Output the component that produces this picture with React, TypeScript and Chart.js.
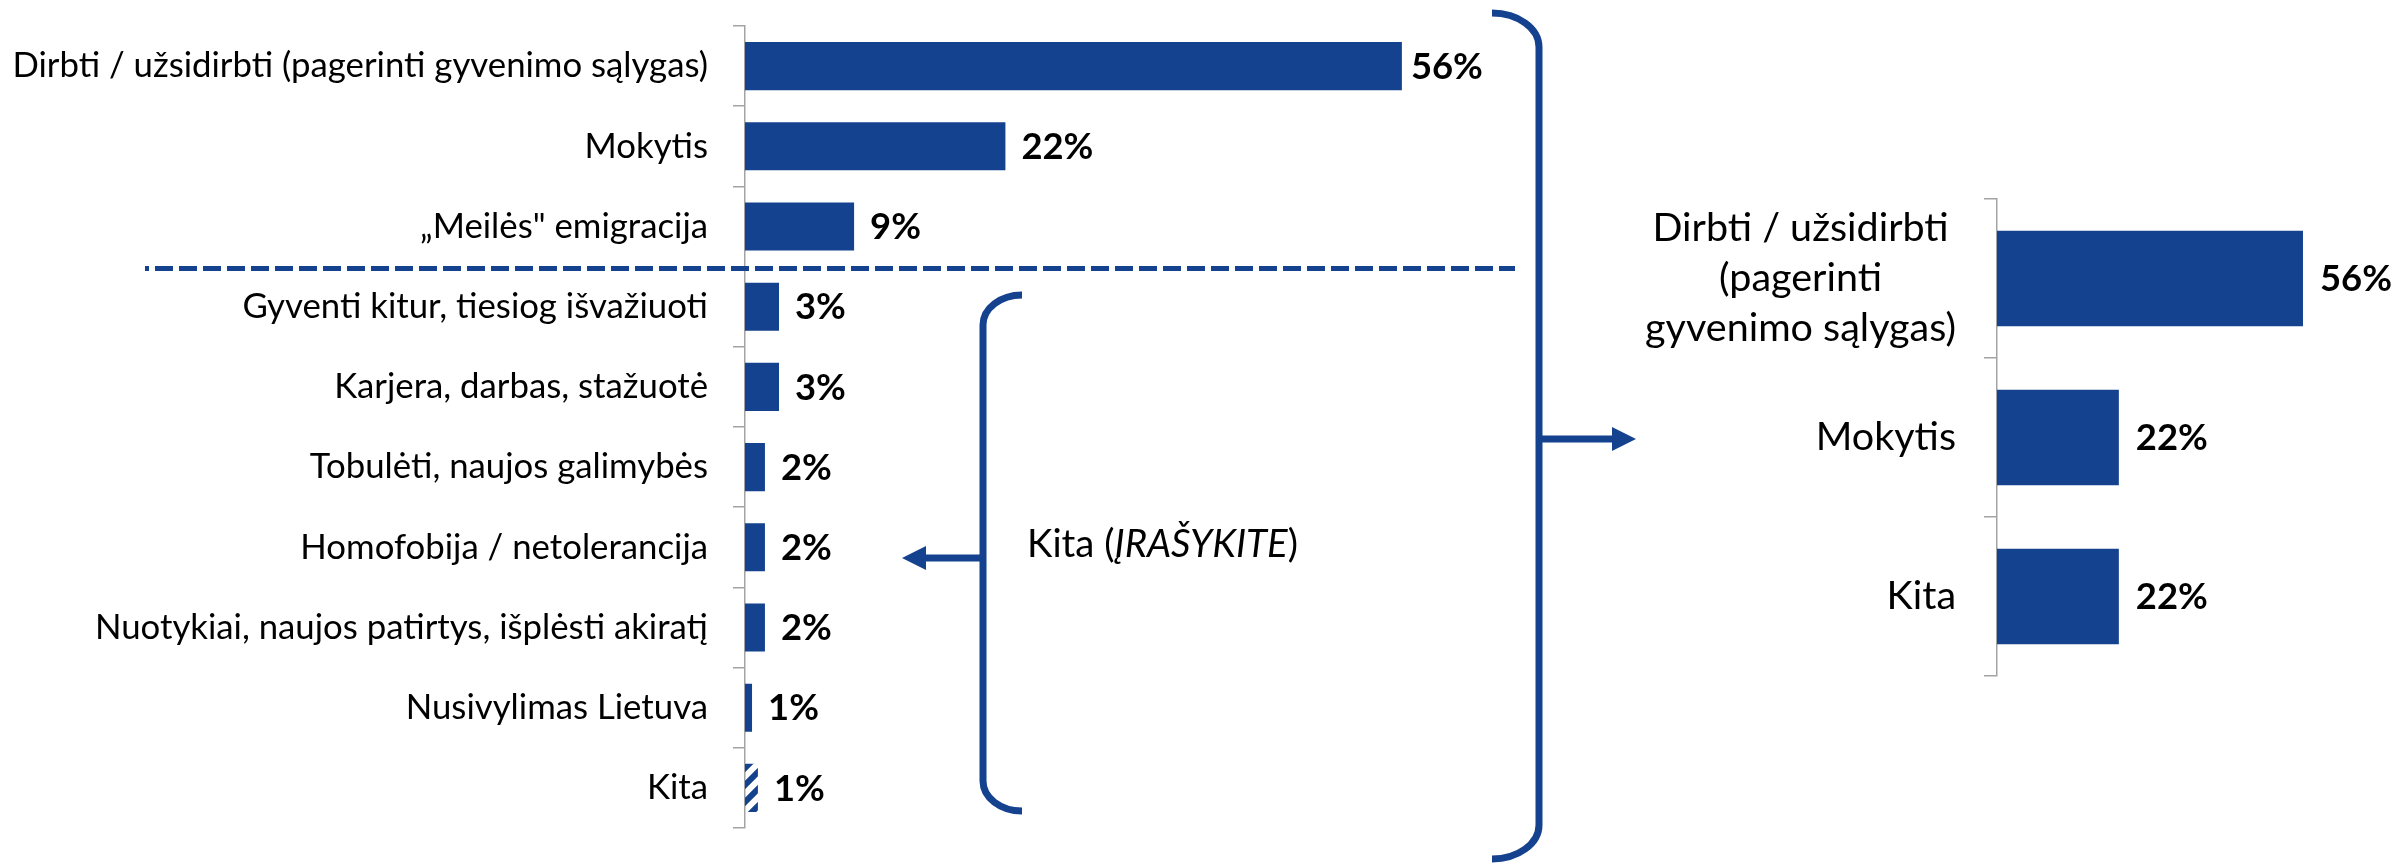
import React, { useEffect, useRef } from 'react';
import { Chart, registerables } from 'chart.js';

Chart.register(...registerables);

// ---------- data ----------
const leftCategories = [
  'Dirbti / užsidirbti (pagerinti gyvenimo sąlygas)',
  'Mokytis',
  '„Meilės" emigracija',
  'Gyventi kitur, tiesiog išvažiuoti',
  'Karjera, darbas, stažuotė',
  'Tobulėti, naujos galimybės',
  'Homofobija / netolerancija',
  'Nuotykiai, naujos patirtys, išplėsti akiratį',
  'Nusivylimas Lietuva',
  'Kita',
];
const leftValues = [56, 22.2, 9.3, 2.9, 2.9, 1.7, 1.7, 1.7, 0.6, 1.1];
const leftValueLabels = ['56%', '22%', '9%', '3%', '3%', '2%', '2%', '2%', '1%', '1%'];

const rightCategories = [
  ['Dirbti / užsidirbti', '(pagerinti', 'gyvenimo sąlygas)'],
  ['Mokytis'],
  ['Kita'],
];
const rightValues = [56, 22.3, 22.3];
const rightValueLabels = ['56%', '22%', '22%'];

const annotationText = { before: 'Kita (', italic: 'ĮRAŠYKITE', after: ')' };

// ---------- style ----------
const BLUE = 'rgb(20,66,142)';
const GRAY = '#a3a3a3';
const FAMILY = "Lato, 'Liberation Sans', sans-serif";

function measure(text: string, weight = 'normal', style = 'normal') {
  const ctx = document.createElement('canvas').getContext('2d')!;
  ctx.font = `${style} ${weight} 100px ${FAMILY}`;
  return ctx.measureText(text).width / 100;
}
function fitSize(text: string, target: number, weight = 'normal', style = 'normal') {
  return target / measure(text, weight, style);
}

function makeHatch(ctx: CanvasRenderingContext2D) {
  const S = 17;
  const c = document.createElement('canvas');
  c.width = S;
  c.height = S;
  const g = c.getContext('2d')!;
  g.strokeStyle = BLUE;
  g.lineWidth = 6;
  g.beginPath();
  g.moveTo(-2, S + 2);
  g.lineTo(S + 2, -2);
  g.moveTo(-S / 2 - 2, S / 2 + 2);
  g.lineTo(S / 2 + 2, -S / 2 - 2);
  g.moveTo(S / 2 - 2, S * 1.5 + 2);
  g.lineTo(S * 1.5 + 2, S / 2 - 2);
  g.stroke();
  return ctx.createPattern(c, 'repeat')!;
}

function bracket(ctx: CanvasRenderingContext2D, xEnd: number, xV: number, yTop: number, yBot: number, ry: number) {
  const rx = xV - xEnd;
  const k = 0.552;
  ctx.beginPath();
  ctx.moveTo(xEnd, yTop);
  ctx.bezierCurveTo(xEnd + rx * k, yTop, xV, yTop + ry * (1 - k), xV, yTop + ry);
  ctx.lineTo(xV, yBot - ry);
  ctx.bezierCurveTo(xV, yBot - ry * (1 - k), xEnd + rx * k, yBot, xEnd, yBot);
  ctx.stroke();
}

function arrow(ctx: CanvasRenderingContext2D, x0: number, x1: number, y: number, head: number, half: number) {
  const d = Math.sign(x1 - x0);
  ctx.beginPath();
  ctx.moveTo(x0, y);
  ctx.lineTo(x1 - d * head, y);
  ctx.stroke();
  ctx.beginPath();
  ctx.moveTo(x1, y);
  ctx.lineTo(x1 - d * head, y - half);
  ctx.lineTo(x1 - d * head, y + half);
  ctx.closePath();
  ctx.fill();
}

const noScalePadding = (s: any) => {
  s.paddingTop = 0;
  s.paddingBottom = 0;
  s.paddingLeft = 0;
  s.paddingRight = 0;
};

const W = 2399;
const H = 865;
const LEFT_W = 1640;
const RIGHT_W = W - LEFT_W;

export default function App() {
  const leftRef = useRef<HTMLCanvasElement>(null);
  const rightRef = useRef<HTMLCanvasElement>(null);

  useEffect(() => {
    const lc = leftRef.current!;
    const rc = rightRef.current!;

    const leftLabelSize = fitSize(leftCategories[0], 696);
    const valueSize = fitSize('56%', 72, 'bold');
    const rightLabelSize = fitSize('gyvenimo sąlygas)', 311);
    const annW =
      measure(annotationText.before) + measure(annotationText.italic, 'normal', 'italic') + measure(annotationText.after);
    const annSize = 271 / annW;

    // ----- left chart -----
    const L_AXIS = 745;
    const L_PX = 11.73;
    const L_MAX = 75;
    const hatch = makeHatch(lc.getContext('2d')!);
    const leftColors = leftCategories.map((_, i) => (i === leftCategories.length - 1 ? hatch : BLUE));

    const leftDecor = {
      id: 'leftDecor',
      afterDatasetsDraw(chart: any) {
        const ctx = chart.ctx as CanvasRenderingContext2D;
        const meta = chart.getDatasetMeta(0);
        ctx.save();
        ctx.fillStyle = '#000';
        ctx.font = `bold ${valueSize}px ${FAMILY}`;
        ctx.textAlign = 'left';
        ctx.textBaseline = 'middle';
        meta.data.forEach((bar: any, i: number) => {
          const gap = i === 0 ? 9 : 16;
          ctx.fillText(leftValueLabels[i], bar.x + gap, bar.y + 1);
        });
        ctx.restore();
      },
      afterDraw(chart: any) {
        const ctx = chart.ctx as CanvasRenderingContext2D;
        const ys = chart.scales.y;
        ctx.save();
        ctx.strokeStyle = BLUE;
        ctx.fillStyle = BLUE;
        // dashed separator
        const dy = (ys.getPixelForValue(2) + ys.getPixelForValue(3)) / 2 + 2;
        ctx.lineWidth = 5;
        ctx.setLineDash([18, 6]);
        ctx.lineDashOffset = 14;
        ctx.beginPath();
        ctx.moveTo(145, dy);
        ctx.lineTo(1515, dy);
        ctx.stroke();
        ctx.setLineDash([]);
        // big bracket
        ctx.lineWidth = 7;
        bracket(ctx, 1492, 1539, 13, 859, 34);
        arrow(ctx, 1539, 1636, 439, 24, 12);
        // small bracket
        bracket(ctx, 1022, 983, 295, 811, 30);
        arrow(ctx, 983, 902, 558, 24, 12);
        // annotation text
        ctx.fillStyle = '#000';
        ctx.textBaseline = 'alphabetic';
        ctx.textAlign = 'left';
        let x = 1027;
        const by = 557;
        ctx.font = `normal normal ${annSize}px ${FAMILY}`;
        ctx.fillText(annotationText.before, x, by);
        x += ctx.measureText(annotationText.before).width;
        ctx.font = `italic normal ${annSize}px ${FAMILY}`;
        ctx.fillText(annotationText.italic, x, by);
        x += ctx.measureText(annotationText.italic).width;
        ctx.font = `normal normal ${annSize}px ${FAMILY}`;
        ctx.fillText(annotationText.after, x, by);
        ctx.restore();
      },
    };

    const left = new Chart(lc, {
      type: 'bar',
      data: {
        labels: leftCategories,
        datasets: [
          {
            data: leftValues,
            backgroundColor: leftColors as any,
            borderWidth: 0,
            barPercentage: 0.6,
            categoryPercentage: 1,
          },
        ],
      },
      options: {
        indexAxis: 'y',
        animation: false,
        responsive: false,
        layout: { padding: { left: 0, top: 26, bottom: H - 828, right: LEFT_W - L_AXIS - L_MAX * L_PX } },
        plugins: { legend: { display: false }, tooltip: { enabled: false } },
        scales: {
          x: { display: false, min: 0, max: L_MAX },
          y: {
            afterFit: (s: any) => {
              s.width = L_AXIS;
              noScalePadding(s);
            },
            grid: { display: true, drawOnChartArea: false, drawTicks: true, tickLength: 12, color: GRAY, lineWidth: 1.5, offset: true },
            border: { display: true, color: GRAY, width: 1.5 },
            ticks: { autoSkip: false, color: '#000', padding: 25, font: { family: FAMILY, size: leftLabelSize } },
          },
        },
      },
      plugins: [leftDecor],
    });

    // ----- right chart -----
    const R_AXIS = 1997 - LEFT_W;
    const R_PX = 5.464;
    const R_MAX = 70;
    const R_TICK = 13;
    const R_PAD = 28;

    const rightDecor = {
      id: 'rightDecor',
      afterDatasetsDraw(chart: any) {
        const ctx = chart.ctx as CanvasRenderingContext2D;
        const meta = chart.getDatasetMeta(0);
        ctx.save();
        ctx.fillStyle = '#000';
        ctx.font = `bold ${valueSize}px ${FAMILY}`;
        ctx.textAlign = 'left';
        ctx.textBaseline = 'middle';
        meta.data.forEach((bar: any, i: number) => {
          ctx.fillText(rightValueLabels[i], bar.x + 17, bar.y + 1);
        });
        ctx.restore();
      },
      afterDraw(chart: any) {
        const ctx = chart.ctx as CanvasRenderingContext2D;
        const ys = chart.scales.y;
        ctx.save();
        ctx.fillStyle = '#000';
        ctx.font = `${rightLabelSize}px ${FAMILY}`;
        ctx.textAlign = 'center';
        ctx.textBaseline = 'middle';
        const rightEdge = R_AXIS - R_TICK - R_PAD;
        const lineH = 50;
        rightCategories.forEach((lines, i) => {
          const cy = ys.getPixelForValue(i);
          const bw = Math.max(...lines.map((l) => ctx.measureText(l).width));
          const cx = rightEdge - bw / 2;
          lines.forEach((l, k) => {
            ctx.fillText(l, cx, cy + (k - (lines.length - 1) / 2) * lineH);
          });
        });
        ctx.restore();
      },
    };

    const right = new Chart(rc, {
      type: 'bar',
      data: {
        labels: rightCategories.map((l) => l.join(' ')),
        datasets: [
          {
            data: rightValues,
            backgroundColor: BLUE,
            borderWidth: 0,
            barPercentage: 0.6,
            categoryPercentage: 1,
          },
        ],
      },
      options: {
        indexAxis: 'y',
        animation: false,
        responsive: false,
        layout: { padding: { left: 0, top: 199, bottom: H - 676, right: RIGHT_W - R_AXIS - R_MAX * R_PX } },
        plugins: { legend: { display: false }, tooltip: { enabled: false } },
        scales: {
          x: { display: false, min: 0, max: R_MAX },
          y: {
            afterFit: (s: any) => {
              s.width = R_AXIS;
              noScalePadding(s);
            },
            grid: { display: true, drawOnChartArea: false, drawTicks: true, tickLength: R_TICK, color: GRAY, lineWidth: 1.5, offset: true },
            border: { display: true, color: GRAY, width: 1.5 },
            ticks: { display: false },
          },
        },
      },
      plugins: [rightDecor],
    });

    return () => {
      left.destroy();
      right.destroy();
    };
  }, []);

  return (
    <div style={{ position: 'fixed', left: 0, top: 0, width: W, height: H, background: '#fff' }}>
      <canvas ref={leftRef} width={LEFT_W} height={H} style={{ position: 'absolute', left: 0, top: 0 }} />
      <canvas ref={rightRef} width={RIGHT_W} height={H} style={{ position: 'absolute', left: LEFT_W, top: 0 }} />
    </div>
  );
}
